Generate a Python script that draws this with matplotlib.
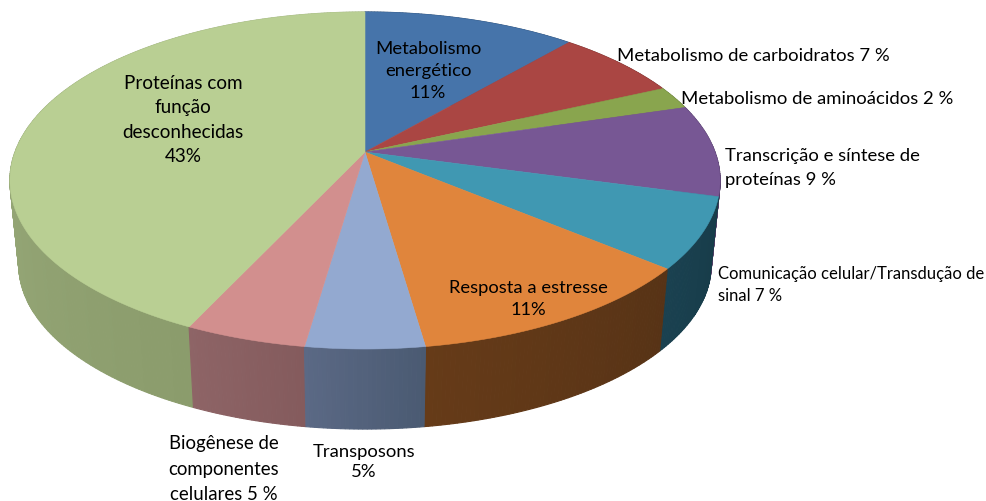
import numpy as np
import matplotlib
matplotlib.use("Agg")
import matplotlib.pyplot as plt
from matplotlib.colors import to_rgb

plt.rcParams['font.family'] = ['Lato', 'DejaVu Sans']

# Data: slices clockwise from 12 o'clock, sizes
slice_names = ["Metabolismo energético", "Metabolismo de carboidratos", "Metabolismo de aminoácidos",
               "Transcrição e síntese de proteínas", "Comunicação celular/Transdução de sinal",
               "Resposta a estresse", "Transposons", "Biogênese de componentes celulares",
               "Proteínas com função desconhecidas"]
shares = [11.4, 6.8, 2.2, 8.8, 6.8, 11.7, 4.6, 4.7, 43.0]
top_colors = ["#4674aa", "#aa4643", "#89a54e", "#775794", "#4098b2",
              "#e0853c", "#93a9d0", "#d28f8e", "#b9cf93"]
# side wall colours at the start / end of each slice (clockwise)
side_start = ["#2f4f75", "#743230", "#5e7235", "#513c65", "#173c49",
              "#573316", "#4a5a72", "#845b5d", "#8b9c6c"]
side_end = ["#2f4f75", "#743230", "#5e7235", "#513c65", "#1a4150",
            "#663b18", "#5b6985", "#8e6466", "#a6b888"]

label_text = ["Metabolismo\nenergético\n11%", "Metabolismo de carboidratos 7 %", "Metabolismo de aminoácidos 2 %",
              "Transcrição e síntese de\nproteínas 9 %", "Comunicação celular/Transdução de\nsinal 7 %",
              "Resposta a estresse\n11%", "Transposons\n5%", "Biogênese de\ncomponentes\ncelulares 5 %",
              "Proteínas com\nfunção\ndesconhecidas\n43%"]
label_xy = [(428, 71), (617, 56), (681, 99), (725, 168), (718, 285), (528, 299), (364, 462), (224, 469), (183, 120)]
label_ha = ["center", "left", "left", "left", "left", "center", "center", "center", "center"]
label_fs = [13.3, 13.3, 13.3, 13.3, 12.0, 13.2, 13.3, 13.4, 13.6]
label_ls = [1.48, 1.2, 1.2, 1.58, 1.43, 1.48, 1.37, 1.6, 1.52]

# Layout of the tilted disc in pixels
CX, CY, RX, RY, K = 365.0, 152.0, 350.0, 163.7, 0.169
SHRINK, DEPTH = 0.975, 85.0


def project(theta):
    u, v = np.sin(theta), -np.cos(theta)
    w = 1 - K * v
    return CX + RX * u / w, CY + RY * v / w


def project_bottom(theta):
    x, y = project(theta)
    return CX + SHRINK * (x - CX), CY + SHRINK * (y - CY) + DEPTH


fig = plt.figure(figsize=(9.86, 5.01), dpi=100)
ax = fig.add_axes([0, 0, 1, 1])
ax.set_xlim(0, 986)
ax.set_ylim(501, 0)
ax.axis('off')

edges = 2 * np.pi * np.cumsum([0] + shares) / sum(shares)

# Side wall, back to front
segs = []
for i in range(len(shares)):
    n = max(2, int(shares[i] * 6))
    t = np.linspace(edges[i], edges[i + 1], n + 1)
    c0, c1 = np.array(to_rgb(side_start[i])), np.array(to_rgb(side_end[i]))
    for j in range(n):
        f = (j + 0.5) / n
        segs.append((project(0.5 * (t[j] + t[j + 1]))[1], t[j], t[j + 1], c0 * (1 - f) + c1 * f))
for _, a, b, col in sorted(segs, key=lambda s: s[0]):
    tt = np.array([a, b])
    xt, yt = project(tt)
    xb, yb = project_bottom(tt)
    ax.fill([xt[0], xt[1], xb[1], xb[0]], [yt[0], yt[1], yb[1], yb[0]],
            fc=col, ec=col, lw=0.8, zorder=2)

# Top face
for i in range(len(shares)):
    tt = np.linspace(edges[i], edges[i + 1], 120)
    x, y = project(tt)
    ax.fill(np.r_[CX, x], np.r_[CY, y], fc=top_colors[i], ec=top_colors[i], lw=0.4, zorder=3)

# Labels
for s, (x, y), ha, fs, ls in zip(label_text, label_xy, label_ha, label_fs, label_ls):
    ax.text(x, y, s, ha=ha, va='center', ma=ha, fontsize=fs, linespacing=ls, color='black', zorder=5)

fig.savefig("out.png", dpi=100)
